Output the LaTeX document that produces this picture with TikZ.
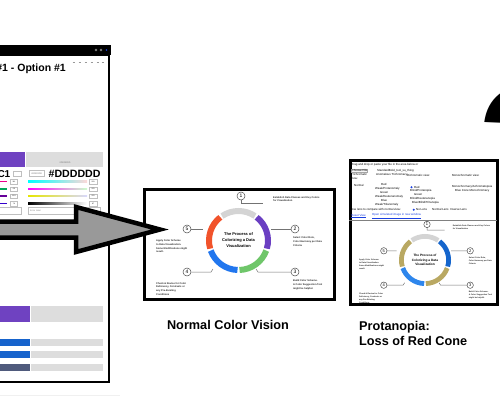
\documentclass[tikz,border=0pt]{standalone}
\usepackage{fontspec}
\setmainfont{Liberation Sans}

\definecolor{wheelgrey}{HTML}{D4D4D4}
\definecolor{wheelpurple}{HTML}{6A3FC2}
\definecolor{wheelgreen}{HTML}{6FC66A}
\definecolor{wheelblue}{HTML}{2176EE}
\definecolor{wheelred}{HTML}{F1532B}
\definecolor{protdark}{HTML}{1565CC}
\definecolor{protlight}{HTML}{2E86EC}
\definecolor{protolive}{HTML}{B9A862}
\definecolor{swpurple}{HTML}{6F42C1}
\definecolor{swgrey}{HTML}{DDDDDD}
\definecolor{swblue}{HTML}{1663CC}
\definecolor{swslate}{HTML}{4F5A7C}
\definecolor{arrowfill}{HTML}{999999}
\definecolor{linkblue}{HTML}{1A3FE0}

\tikzset{
  panel/.style={draw=black, line width=3pt},
  stepnum/.style={circle, draw=black!70, line width=0.5pt, minimum size=8pt, inner sep=0pt, font=\fontsize{5}{5}\selectfont},
  steptext/.style={anchor=north west, align=left, inner sep=0pt, text=black!85, font=\fontsize{2.5}{3.8}\selectfont\bfseries},
  leader/.style={draw=black!55, line width=0.5pt},
  uitext/.style={anchor=west, inner sep=0pt, font=\fontsize{2.9}{3.5}\selectfont},
  tinybox/.style={draw=black!25, line width=0.3pt, fill=white},
  tinynum/.style={inner sep=0pt, font=\fontsize{1.8}{2}\selectfont},
  viewcaption/.style={anchor=base west, inner sep=0pt, font=\fontsize{12.7}{15}\selectfont\bfseries}
}

% the five-step wheel: prefix, centre, scale, four colours, ring width
\newcommand{\colorwheel}[8]{%
\begin{scope}[shift={(#2)}, scale=#3, transform shape]
  \draw[line width=#8, wheelgrey] (56:29.5pt) arc[start angle=56, end angle=124, radius=29.5pt];
  \draw[line width=#8, #4] (-16:29.5pt) arc[start angle=-16, end angle=52, radius=29.5pt];
  \draw[line width=#8, #5] (-88:29.5pt) arc[start angle=-88, end angle=-20, radius=29.5pt];
  \draw[line width=#8, #6] (-160:29.5pt) arc[start angle=-160, end angle=-92, radius=29.5pt];
  \draw[line width=#8, #7] (128:29.5pt) arc[start angle=128, end angle=196, radius=29.5pt];
  \node[align=center, font=\fontsize{4}{6}\selectfont\bfseries] (#1title) at (0,0) {The Process of\\Colorizing a Data\\Visualization};
  \node[stepnum] (#1n1) at (2.5,-44.5) {1};
  \node[stepnum] (#1n2) at (56.5,-11.5) {2};
  \node[stepnum] (#1n3) at (56.5,31.5) {3};
  \node[stepnum] (#1n4) at (-51.5,31.5) {4};
  \node[stepnum] (#1n5) at (-51.5,-11.5) {5};
  \draw[leader] (#1n1.south) -- (2.5,-37.5) -- (24.5,-37.5);
  \draw[leader] (32.5,-11.5) -- (#1n2.west);
  \draw[leader] (17.5,28.5) -- (19.5,31.5) -- (#1n3.west);
  \draw[leader] (#1n4.east) -- (-27.5,31.5) -- (-25.5,28.5);
  \draw[leader] (#1n5.east) -- (-35.5,-11.5);
  \node[steptext] (#1d1) at (34.5,-44.5) {Establish Data Classes and Key Colors\\for Visualization};
  \node[steptext] (#1d2) at (54.5,-4) {Select Color Role,\\Color Harmony per Data\\Criteria};
  \node[steptext] (#1d3) at (54.5,39) {Build Color Scheme.\\A Color Suggestion Tool\\might be helpful.};
  \node[steptext] (#1d4) at (-82.5,41.5) {Check \& Revise for Color\\Deficiency, Contrasts or\\any Pre-Existing\\Conditions};
  \node[steptext] (#1d5) at (-82.5,-1) {Apply Color Scheme\\to Data Visualization.\\Some Modifications might\\result.};
\end{scope}}

\begin{document}
\begin{tikzpicture}[x=1pt, y=-1pt]
\useasboundingbox (0,0) rectangle (500,417);
\clip (0,0) rectangle (500,417);

% colour picker screenshot, cut at the left
\fill[black!6] (0,394.5) rectangle (120,395.5);
\fill[black] (-5,45) rectangle (110.5,55);
\draw[line width=2.5pt] (-5,55) -- (109.2,55) -- (109.2,381.8) -- (-5,381.8);
\foreach \x in {96,101} \draw[black!45, line width=0.4pt] (\x,50) circle (1);
\fill[linkblue] (106.5,50) circle (0.9);
\node[anchor=base east, inner sep=0pt, font=\fontsize{10.5}{12}\selectfont\bfseries] (pickertitle) at (66,71.5) {\#1 - Option \#1};
\foreach \x in {74,80,86,92,98,103} \draw[black!40, line width=0.4pt] (\x-1.3,62) -- (\x+1.3,62);

\fill[swpurple] (-5,152) rectangle (24.5,167);
\fill[swgrey] (26,152) rectangle (103,167);
\node[inner sep=0pt, font=\fontsize{2.2}{3}\selectfont, text=black!55] (swtag) at (65,162.5) {\#DDDDDD};
\node[anchor=base east, inner sep=0pt, font=\fontsize{10}{12}\selectfont\bfseries] (hexleft) at (10.5,177) {\#6F42C1};
\draw[tinybox] (13.5,171) rectangle (21.5,176);
\draw[tinybox] (29,170.5) rectangle (44.5,176);
\node[inner sep=0pt, font=\fontsize{2.2}{3}\selectfont, text=black!55] (hextag) at (36.7,173.3) {\#DDDDDD};
\node[anchor=base west, inner sep=0pt, font=\fontsize{10.6}{12}\selectfont\bfseries] (hexright) at (48.5,177) {\#DDDDDD};

\foreach \y/\c/\v/\w [count=\i] in {181.5/magenta/111/221, 189/teal!70!green/66/221, 196/violet!80!blue/193/221, 203.5/blue!60!violet/76/87} {
  \draw[\c, line width=1.4pt] (-5,\y) -- (7,\y);
  \draw[tinybox] (10.5,\y-2.3) rectangle (17.5,\y+2.3);
  \node[tinynum] (lv\i) at (14,\y) {\v};
  \draw[tinybox] (89,\y-2.3) rectangle (97.5,\y+2.3);
  \node[tinynum] (rv\i) at (93.2,\y) {\w};
}
\shade[left color=cyan, right color=red!15] (28,180.8) rectangle (87,182.2);
\shade[left color=magenta, right color=green!20] (28,188.3) rectangle (87,189.7);
\shade[left color=yellow!90!black, right color=blue!15] (28,195.3) rectangle (87,196.7);
\shade[left color=black, right color=white] (28,202.8) rectangle (87,204.2);

\draw[tinybox] (-5,207.5) rectangle (21,214.5);
\draw[tinybox] (28,207.5) rectangle (100,214.5);
\node[uitext, font=\fontsize{2.2}{3}\selectfont, text=black!45] (labelhint) at (30,211) {Enter label};

\fill[swpurple] (-5,306) rectangle (30,322);
\fill[swgrey] (31,306) rectangle (103,322);
\foreach \y/\c in {339/swblue, 351/swblue, 364/swslate} {
  \fill[\c] (-5,\y) rectangle (30,\y+7);
  \fill[swgrey] (31,\y) rectangle (103,\y+7);
}

% normal colour vision
\draw[panel] (144.5,189.5) rectangle (334,299.5);
\colorwheel{nv}{238.5,240.5}{1}{wheelpurple}{wheelgreen}{wheelblue}{wheelred}{6pt}
\node[viewcaption, anchor=base] (normalcap) at (228,329) {Normal Color Vision};

% protanopia simulator
\draw[panel] (350.5,160.5) rectangle (497,304.5);
\node[uitext] (dragline) at (351,165) {Drag and drop or paste your file in the area below or};
\node[uitext, draw=black!35, fill=black!4, inner sep=0.5pt] (choosebtn) at (351,170.3) {Choose File};
\node[uitext] (filename) at (377,170.3) {StandardBold\_tool\_su\_thing};
\node[uitext, align=left] (trichro) at (351,176.5) {Trichromatic\\view:};
\node[uitext] (anomal) at (376,175) {Anomalous Trichromacy:};
\node[uitext] (dichro) at (407,175) {Dichromatic view:};
\node[uitext] (monochro) at (452,175) {Monochromatic view:};
\node[uitext] (normalopt) at (354,185) {Normal};
\node[uitext] (anom1) at (381,184.7) {Red};
\node[uitext] (anom2) at (375,189) {Weak/Protanomaly};
\node[uitext] (anom3) at (380,192.6) {Green};
\node[uitext] (anom4) at (375,197) {Weak/Deuteranomaly};
\node[uitext] (anom5) at (381,200.8) {Blue};
\node[uitext] (anom6) at (375,204.7) {Weak/Tritanomaly};
\fill[linkblue] (411.5,187.2) circle (1.1);
\node[uitext] (dich1) at (414,187.2) {Red};
\node[uitext] (dich2) at (410,191) {Blind/Protanopia};
\node[uitext] (dich3) at (414,194.8) {Green};
\node[uitext] (dich4) at (410,198.7) {Blind/Deuteranopia};
\node[uitext] (dich5) at (412,202.5) {Blue/Blind/Tritanopia};
\node[uitext] (mono1) at (452,187.2) {Monochromacy/Achromatopsia};
\node[uitext] (mono2) at (455,191) {Blue Cone Monochromacy};
\node[uitext] (lensline) at (351,209.7) {Use lens to compare with normal view:};
\fill[linkblue] (413.7,209.7) circle (1.1);
\node[uitext] (nolens) at (416,209.7) {No Lens};
\node[uitext] (normlens) at (432,209.7) {Normal Lens};
\node[uitext] (invlens) at (450,209.7) {Inverse Lens};
\node[uitext, text=linkblue] (resetlink) at (351,216) {\underline{Reset View}};
\node[uitext, text=linkblue] (openlink) at (372,216) {\underline{Open simulated image in new window}};
\draw[black!50, line width=0.5pt] (349,220.5) -- (497,220.5);
\colorwheel{pv}{425,260}{0.8}{protdark}{protolive}{protlight}{protolive}{4.8pt}
\node[viewcaption] (protcap1) at (359,330) {Protanopia:};
\node[viewcaption] (protcap2) at (359,345.7) {Loss of Red Cone};

% big arrow between the two
\draw[line width=4.5pt, fill=arrowfill, line join=miter] (-10,221.5) -- (76,221.5) -- (76,207) -- (160,229.5) -- (76,252) -- (76,237.5) -- (-10,237.5) -- cycle;

\node[anchor=base west, inner sep=0pt, font=\fontsize{180}{180}\selectfont\bfseries] (bigquery) at (476,210) {\rlap{\smash{?}}};
\end{tikzpicture}
\end{document}
